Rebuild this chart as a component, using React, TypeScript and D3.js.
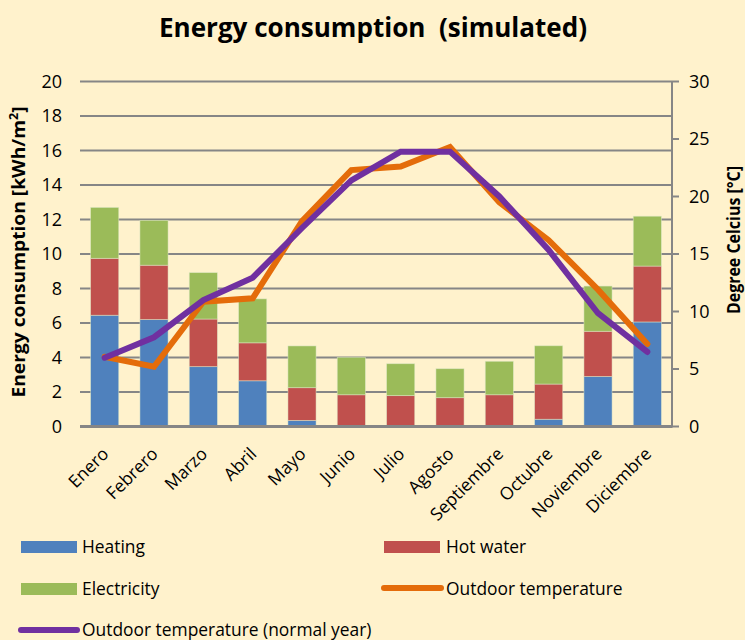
import React from "react";
import * as d3 from "d3";

const months = ["Enero", "Febrero", "Marzo", "Abril", "Mayo", "Junio", "Julio", "Agosto", "Septiembre", "Octubre", "Noviembre", "Diciembre"];
const heating = [6.45, 6.2, 3.47, 2.65, 0.35, 0.03, 0.03, 0.03, 0.03, 0.42, 2.9, 6.06];
const hotWater = [3.3, 3.15, 2.76, 2.2, 1.9, 1.81, 1.76, 1.64, 1.81, 2.04, 2.62, 3.24];
const electricity = [2.95, 2.6, 2.69, 2.55, 2.42, 2.17, 1.85, 1.68, 1.94, 2.22, 2.62, 2.89];
const outdoorTemp = [6.07, 5.2, 10.85, 11.15, 17.85, 22.3, 22.6, 24.3, 19.5, 16.2, 11.9, 7.17];
const normalTemp = [5.98, 7.76, 11.0, 12.94, 17.26, 21.4, 23.9, 23.9, 20.0, 15.35, 9.85, 6.48];
const leftTicks = [0, 2, 4, 6, 8, 10, 12, 14, 16, 18, 20];
const rightTicks = [0, 5, 10, 15, 20, 25, 30];

const seriesNames = ["Heating", "Hot water", "Electricity"];
const seriesColors = ["#4f81bd", "#c0504d", "#9bbb59"];
const FONT = "'Open Sans', Lato, sans-serif";

export default function App() {
  const W = 745, H = 640;
  const x0 = 80, x1 = 672, yTop = 81.5, yBot = 426.5;
  const x = d3.scaleBand<string>().domain(months).range([x0, x1]).paddingInner(0.43).paddingOuter(0.215);
  const y = d3.scaleLinear().domain([0, 20]).range([yBot, yTop]);
  const yT = d3.scaleLinear().domain([0, 30]).range([yBot, yTop]);

  const rows = months.map((m, i) => ({ month: m, Heating: heating[i], "Hot water": hotWater[i], Electricity: electricity[i] }));
  const stack = d3.stack<any>().keys(seriesNames)(rows);
  const cx = (m: string) => (x(m) as number) + x.bandwidth() / 2;

  const line = d3.line<number>().x((_, i) => cx(months[i])).y((d) => yT(d));

  return (
    <svg width={W} height={H} style={{ position: "absolute", left: 0, top: 0, background: "#fff2cc" }} fontFamily={FONT}>
      <rect x={0} y={0} width={W} height={H} fill="#fff2cc" />
      <text x={159} y={37} fontSize={26} fontWeight="bold" fill="#000" xmlSpace="preserve" textLength={428} lengthAdjust="spacingAndGlyphs">
        {"Energy consumption  (simulated)"}
      </text>
      {/* gridlines */}
      {leftTicks.map((t) => (
        <line key={"g" + t} x1={x0} x2={x1} y1={y(t)} y2={y(t)} stroke="#868686" strokeWidth={t === 0 ? 3 : 2} />
      ))}
      {leftTicks.map((t) => (
        <text key={"l" + t} x={62} y={y(t)} dy="0.36em" textAnchor="end" fontSize={18} fill="#000">{t}</text>
      ))}
      {/* right axis */}
      <line x1={x1} x2={x1} y1={yTop} y2={yBot + 1} stroke="#868686" strokeWidth={2} />
      {rightTicks.map((t) => (
        <g key={"r" + t}>
          <line x1={x1} x2={x1 + 7} y1={yT(t)} y2={yT(t)} stroke="#868686" strokeWidth={2} />
          <text x={689} y={yT(t)} dy="0.36em" textAnchor="start" fontSize={18} fill="#000">{t}</text>
        </g>
      ))}
      {/* bars */}
      {stack.map((s, si) => (
        <g key={seriesNames[si]} fill={seriesColors[si]}>
          {s.map((d, i) => (
            <rect key={i} x={x(months[i])} y={y(d[1])} width={x.bandwidth()} height={Math.max(0, y(d[0]) - y(d[1]))}
              stroke="#dfe9c9" strokeWidth={0.8} strokeOpacity={0.6} />
          ))}
        </g>
      ))}
      <line x1={x0} x2={x1} y1={yBot} y2={yBot} stroke="#868686" strokeWidth={3} />
      {/* lines */}
      <path d={line(outdoorTemp) as string} fill="none" stroke="#e46c0a" strokeWidth={6} strokeLinejoin="miter" strokeLinecap="round" />
      <path d={line(normalTemp) as string} fill="none" stroke="#7030a0" strokeWidth={6} strokeLinejoin="miter" strokeLinecap="round" />
      {/* x labels */}
      {months.map((m) => (
        <text key={m} transform={`translate(${cx(m) + 5},${455}) rotate(-45)`} textAnchor="end" fontSize={17.5} fill="#000">{m}</text>
      ))}
      {/* axis titles */}
      <text transform={`translate(25,252) rotate(-90)`} textAnchor="middle" fontSize={18.5} fontWeight="bold" fill="#000"
        textLength={291} lengthAdjust="spacingAndGlyphs">
        Energy consumption [kWh/m<tspan dy={-7} fontSize={12}>2</tspan><tspan dy={7}>]</tspan>
      </text>
      <text transform={`translate(740,240) rotate(-90)`} textAnchor="middle" fontSize={17} fontWeight="bold" fill="#000"
        textLength={148} lengthAdjust="spacingAndGlyphs">
        Degree Celcius [°C]
      </text>
      {/* legend */}
      <rect x={21} y={541} width={56} height={12} fill={seriesColors[0]} />
      <text x={82} y={547} dy="0.36em" fontSize={17.4}>Heating</text>
      <rect x={384} y={541} width={56} height={12} fill={seriesColors[1]} />
      <text x={446} y={547} dy="0.36em" fontSize={17.4}>Hot water</text>
      <rect x={21} y={583} width={56} height={12} fill={seriesColors[2]} />
      <text x={82} y={589} dy="0.36em" fontSize={17.4}>Electricity</text>
      <line x1={384} x2={441} y1={588} y2={588} stroke="#e46c0a" strokeWidth={6} strokeLinecap="round" />
      <text x={446} y={589} dy="0.36em" fontSize={17.4}>Outdoor temperature</text>
      <line x1={21} x2={77} y1={630} y2={630} stroke="#7030a0" strokeWidth={6} strokeLinecap="round" />
      <text x={82} y={630} dy="0.36em" fontSize={17.4}>Outdoor temperature (normal year)</text>
    </svg>
  );
}
